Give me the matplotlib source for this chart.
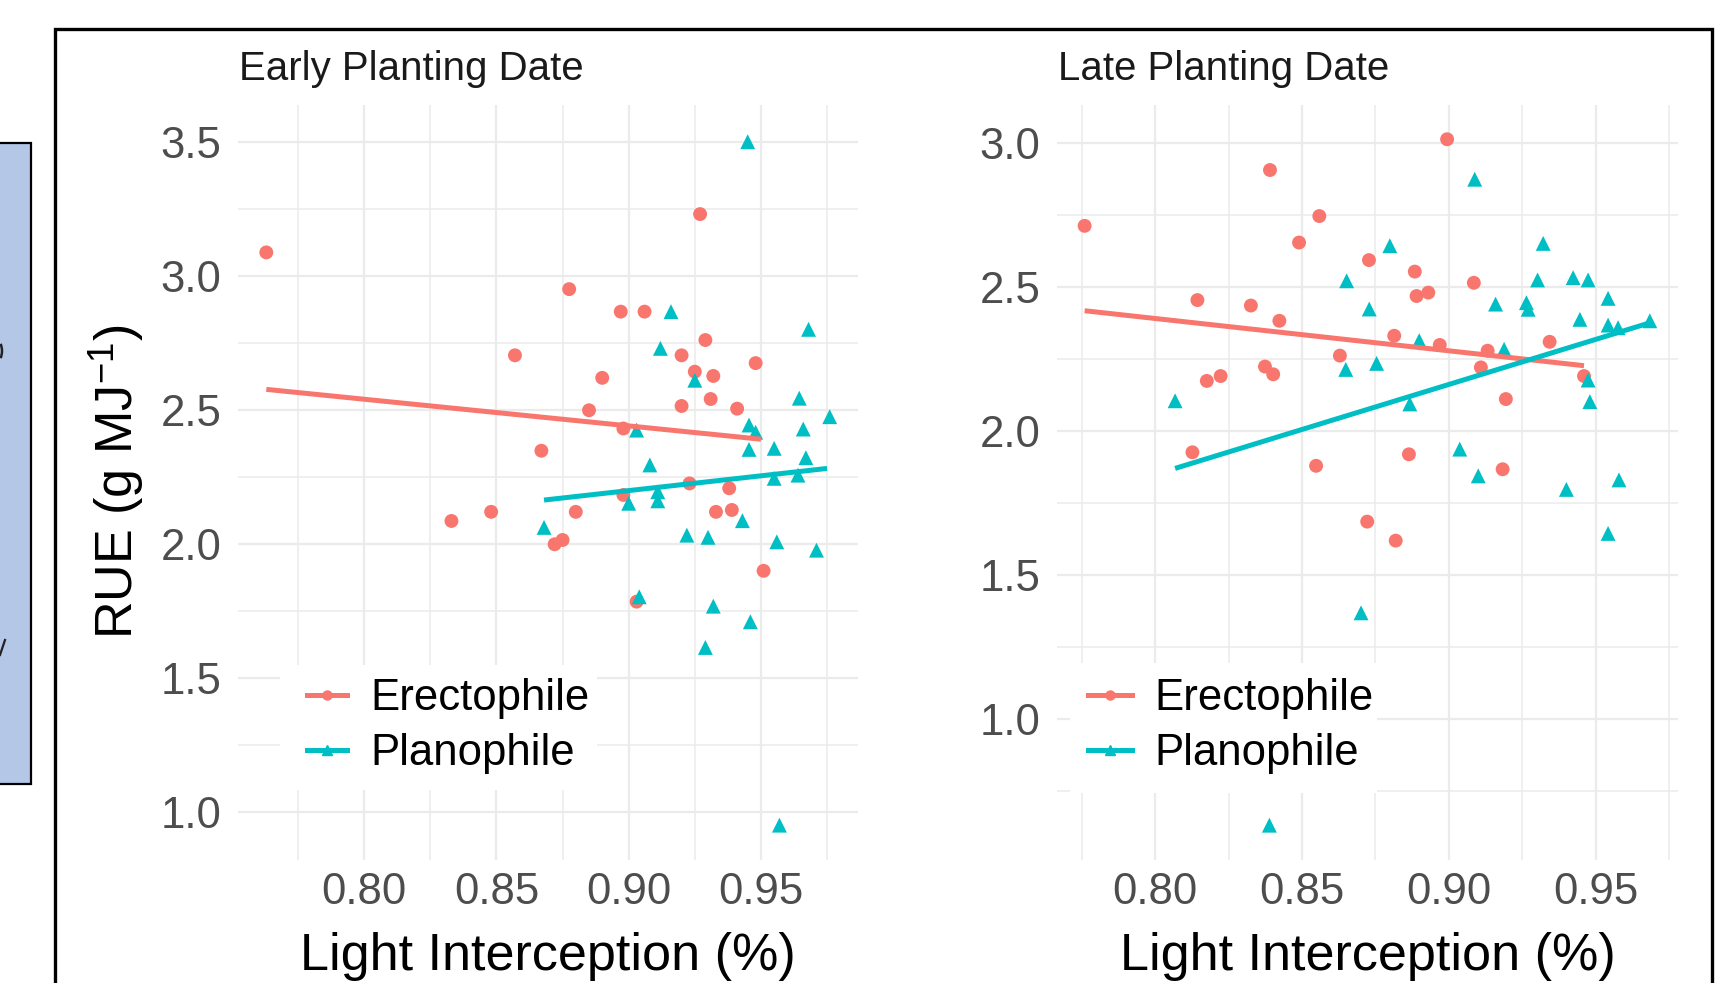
import matplotlib
matplotlib.use('Agg')
import matplotlib.pyplot as plt
from matplotlib.lines import Line2D
from matplotlib.patches import Rectangle, Arc
import numpy as np

plt.rcParams['font.family'] = ['Liberation Sans', 'DejaVu Sans']
plt.rcParams['mathtext.default'] = 'regular'

# ---------------- data ----------------
series_names = ['Erectophile', 'Planophile']
panel_titles = ['Early Planting Date', 'Late Planting Date']
x_tick_vals = [0.80, 0.85, 0.90, 0.95]
x_tick_labels = ['0.80', '0.85', '0.90', '0.95']
early_y_ticks = [1.0, 1.5, 2.0, 2.5, 3.0, 3.5]
late_y_ticks = [1.0, 1.5, 2.0, 2.5, 3.0]

early_erect_x = [0.763, 0.833, 0.848, 0.857, 0.867, 0.872, 0.875, 0.8775, 0.880, 0.885,
                 0.890, 0.897, 0.898, 0.898, 0.903, 0.906, 0.920, 0.920, 0.923, 0.925,
                 0.927, 0.929, 0.931, 0.932, 0.933, 0.938, 0.939, 0.941, 0.948, 0.951]
early_erect_y = [3.087, 2.085, 2.119, 2.703, 2.347, 1.998, 2.014, 2.950, 2.119, 2.498,
                 2.619, 2.866, 2.430, 2.182, 1.784, 2.866, 2.703, 2.514, 2.225, 2.642,
                 3.230, 2.760, 2.540, 2.626, 2.119, 2.207, 2.126, 2.504, 2.674, 1.899]

early_plano_x = [0.868, 0.900, 0.903, 0.904, 0.908, 0.911, 0.911, 0.912, 0.916, 0.922,
                 0.925, 0.929, 0.930, 0.932, 0.943, 0.945, 0.9455, 0.9455, 0.946, 0.948,
                 0.955, 0.955, 0.956, 0.957, 0.964, 0.9645, 0.966, 0.967, 0.968, 0.971, 0.976]
early_plano_y = [2.061, 2.151, 2.424, 1.802, 2.294, 2.160, 2.194, 2.729, 2.866, 2.032,
                 2.610, 1.613, 2.024, 1.767, 2.086, 3.500, 2.443, 2.352, 1.709, 2.416,
                 2.356, 2.244, 2.007, 0.950, 2.256, 2.543, 2.428, 2.321, 2.800, 1.976, 2.474]

late_erect_x = [0.776, 0.8127, 0.8144, 0.8176, 0.8223, 0.8326, 0.8374, 0.8391, 0.8402, 0.8423,
                0.849, 0.8548, 0.8559, 0.8629, 0.8722, 0.8728, 0.8814, 0.8819, 0.8864, 0.8884,
                0.889, 0.893, 0.8969, 0.8994, 0.9085, 0.9109, 0.9132, 0.9183, 0.9194, 0.9343, 0.946]
late_erect_y = [2.713, 1.926, 2.455, 2.174, 2.191, 2.436, 2.224, 2.907, 2.197, 2.383,
                2.655, 1.879, 2.747, 2.262, 1.685, 2.594, 2.331, 1.619, 1.919, 2.554,
                2.469, 2.481, 2.299, 3.014, 2.515, 2.221, 2.279, 1.867, 2.111, 2.310, 2.191]

late_plano_x = [0.8068, 0.8389, 0.8649, 0.8652, 0.8701, 0.8729, 0.8754, 0.8799, 0.8867, 0.8899,
                0.9037, 0.9088, 0.910, 0.9159, 0.9188, 0.9264, 0.927, 0.9302, 0.9321, 0.940,
                0.9423, 0.9446, 0.9474, 0.9474, 0.948, 0.9542, 0.9542, 0.9542, 0.9576, 0.9579, 0.9684]
late_plano_y = [2.105, 0.630, 2.214, 2.522, 1.368, 2.424, 2.235, 2.644, 2.094, 2.314,
                1.937, 2.875, 1.844, 2.441, 2.284, 2.446, 2.423, 2.525, 2.652, 1.797,
                2.533, 2.388, 2.525, 2.177, 2.102, 2.461, 2.368, 1.644, 2.359, 1.830, 2.383]

# fitted trend lines (end points)
early_erect_fit_x = [0.763, 0.950]
early_erect_fit_y = [2.576, 2.390]
early_plano_fit_x = [0.868, 0.975]
early_plano_fit_y = [2.163, 2.281]
late_erect_fit_x = [0.776, 0.946]
late_erect_fit_y = [2.418, 2.227]
late_plano_fit_x = [0.8068, 0.9684]
late_plano_fit_y = [1.870, 2.376]

# ---------------- figure ----------------
W, H = 1719, 983
fig = plt.figure(figsize=(W / 100, H / 100), dpi=100)
fig.patch.set_facecolor('white')


def fx(px):
    return px / W


def fy(py):
    return 1 - py / H


RED = '#F8766D'
TEAL = '#00BFC4'
GRID = '#EBEBEB'
TICKC = '#4D4D4D'

panels = [
    dict(rect=(238, 858), xlim=(0.7523, 0.9867), ylim=(0.820, 3.637), yticks=early_y_ticks,
         title=panel_titles[0],
         pts=[(early_erect_x, early_erect_y), (early_plano_x, early_plano_y)],
         fits=[(early_erect_fit_x, early_erect_fit_y), (early_plano_fit_x, early_plano_fit_y)],
         legend=dict(box=(280, 665, 597, 790), key=(307, 347), text=370)),
    dict(rect=(1057, 1678), xlim=(0.7666, 0.9780), ylim=(0.509, 3.133), yticks=late_y_ticks,
         title=panel_titles[1],
         pts=[(late_erect_x, late_erect_y), (late_plano_x, late_plano_y)],
         fits=[(late_erect_fit_x, late_erect_fit_y), (late_plano_fit_x, late_plano_fit_y)],
         legend=dict(box=(1070, 663, 1377, 793), key=(1088, 1132), text=1154)),
]

top_px, bot_px = 105, 860
colors = [RED, TEAL]
markers = ['o', '^']
sizes = [100, 115]

for p in panels:
    l, r = p['rect']
    ax = fig.add_axes([fx(l), fy(bot_px), fx(r) - fx(l), (bot_px - top_px) / H])
    for s in ax.spines.values():
        s.set_visible(False)
    ax.set_xticks(x_tick_vals)
    ax.set_xticklabels(x_tick_labels)
    ax.set_xticks([v + 0.025 for v in [0.75] + x_tick_vals], minor=True)
    ax.set_yticks(p['yticks'])
    ax.set_yticklabels(['%.1f' % v for v in p['yticks']])
    ax.set_yticks([v - 0.25 for v in p['yticks']] + [p['yticks'][-1] + 0.25], minor=True)
    ax.tick_params(which='both', length=0)
    ax.tick_params(axis='both', labelsize=31.5, labelcolor=TICKC)
    ax.tick_params(axis='x', pad=9)
    ax.tick_params(axis='y', pad=12)
    ax.grid(which='major', color=GRID, lw=1.6)
    ax.grid(which='minor', color=GRID, lw=1.1)
    ax.set_axisbelow(True)

    for (xs, ys), c, m, sz in zip(p['pts'], colors, markers, sizes):
        ax.scatter(xs, ys, s=sz, marker=m, color=c, edgecolors='none', zorder=3, clip_on=False)
    for (xs, ys), c in zip(p['fits'], colors):
        ax.plot(xs, ys, color=c, lw=3.6, zorder=4, solid_capstyle='butt')

    # limits last (set_ticks may widen the view)
    ax.set_xlim(*p['xlim'])
    ax.set_ylim(*p['ylim'])

    # panel title
    fig.text(fx(l + 1), fy(80), p['title'], fontsize=29, color='#1A1A1A',
             ha='left', va='baseline')
    # x axis title
    fig.text(fx((l + r) / 2), fy(970), 'Light Interception (%)', fontsize=37.5,
             color='black', ha='center', va='baseline')

    # legend (drawn inside panel, white background)
    lg = p['legend']
    bx0, by0, bx1, by1 = lg['box']
    fig.add_artist(Rectangle((fx(bx0), fy(by1)), fx(bx1) - fx(bx0), (by1 - by0) / H,
                             transform=fig.transFigure, facecolor='white',
                             edgecolor='none', zorder=5))
    k0, k1 = lg['key']
    for name, c, m, row in zip(series_names, colors, markers, [695, 750]):
        fig.add_artist(Line2D([fx(k0), fx(k1)], [fy(row), fy(row)], transform=fig.transFigure,
                              color=c, lw=3.6, zorder=6))
        fig.add_artist(Line2D([fx((k0 + k1) / 2)], [fy(row)], transform=fig.transFigure,
                              color=c, marker=m, ms=6.5, lw=0, zorder=6))
        fig.text(fx(lg['text']), fy(row + 15), name, fontsize=31.5, color='black',
                 ha='left', va='baseline', zorder=6)

# y axis title
fig.text(fx(117), fy(482), 'RUE (g MJ$^{-1}$)', fontsize=37.5, color='black',
         rotation=90, ha='center', va='center')

# outer frame
fig.add_artist(Rectangle((fx(55), fy(1100)), fx(1712) - fx(55), (1100 - 29) / H,
                         transform=fig.transFigure, fill=False, edgecolor='black',
                         lw=2.4, zorder=10))

# blue side box (partially visible, its text cut off by the image edge)
fig.add_artist(Rectangle((fx(-10), fy(784)), fx(31) + 10 / W, (784 - 142.5) / H,
                         transform=fig.transFigure, facecolor='#B4C7E7', edgecolor='black',
                         lw=1.6, zorder=10))
# remnants of cut-off glyphs on the blue box
fig.add_artist(Arc((fx(-4), fy(351)), 12 / W, 22 / H, theta1=-70, theta2=70,
                   transform=fig.transFigure, color='#222222', lw=1.8, zorder=11))
fig.add_artist(Line2D([fx(0), fx(5)], [fy(655), fy(640)], transform=fig.transFigure,
                      color='#222222', lw=1.6, zorder=11))

fig.savefig('out.png', dpi=100, facecolor='white')
